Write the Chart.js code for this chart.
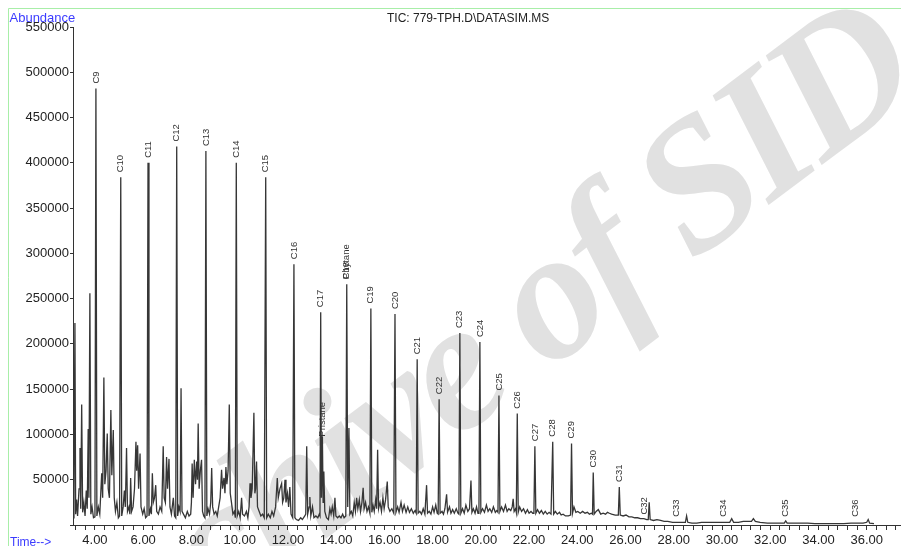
<!DOCTYPE html>
<html>
<head>
<meta charset="utf-8">
<script src="https://cdn.jsdelivr.net/npm/chart.js@4.4.1/dist/chart.umd.min.js"></script>
<style>
body{margin:0;background:#fff}
#wrap{width:901px;height:546px;position:relative}
</style>
</head>
<body>
<div id="wrap"><canvas id="myChart"></canvas></div>
<script>
// retention time (min) and abundance of the TIC trace
var rt = [
 3.09,3.13,3.17,3.20,3.24,3.28,3.34,3.38,3.41,3.45,3.49,3.54,3.59,3.64,3.68,3.72,3.75,3.79,3.83,3.88,3.94,
 4.00,4.04,4.08,4.14,4.20,4.28,4.32,4.37,4.41,4.46,4.51,4.55,4.60,4.66,4.70,4.76,4.80,4.85,4.91,4.97,
 5.02,5.07,5.11,5.17,5.22,5.26,5.31,5.35,5.41,5.45,5.48,5.52,5.58,5.64,5.70,5.73,5.77,5.81,5.87,5.91,5.98,
 6.04,6.10,6.16,6.20,6.24,6.30,6.34,6.38,6.42,6.47,6.52,6.56,6.63,6.70,6.77,6.83,6.87,6.92,6.97,
 7.01,7.07,7.11,7.17,7.25,7.30,7.35,7.39,7.43,7.48,7.53,7.57,7.61,7.67,7.75,7.83,7.90,7.97,
 8.00,8.03,8.07,8.12,8.17,8.22,8.25,8.28,8.32,8.37,8.42,8.46,8.51,8.56,8.60,8.64,8.69,8.75,8.80,8.84,8.88,8.94,
 9.01,9.07,9.13,9.19,9.25,9.29,9.35,9.39,9.43,9.47,9.52,9.57,9.61,9.66,9.72,9.78,9.82,9.86,9.90,9.96,
 10.02,10.08,10.12,10.20,10.28,10.34,10.39,10.43,10.47,10.52,10.59,10.63,10.66,10.70,10.74,10.81,10.88,10.95,
 11.02,11.08,11.12,11.19,11.27,11.34,11.41,11.49,11.56,11.60,11.67,11.74,11.78,11.83,11.88,11.92,11.98,
 12.03,12.08,12.13,12.20,12.25,12.29,12.35,12.44,12.53,12.60,12.70,12.74,12.78,12.82,12.88,12.91,12.95,
 13.02,13.08,13.16,13.24,13.30,13.33,13.36,13.39,13.43,13.46,13.49,13.53,13.60,13.68,13.74,13.79,13.84,13.90,13.95,13.99,
 14.06,14.13,14.20,14.27,14.33,14.40,14.44,14.48,14.53,14.57,14.63,14.69,14.75,14.80,14.85,14.90,14.96,
 15.01,15.07,15.12,15.16,15.22,15.28,15.34,15.40,15.44,15.48,15.53,15.58,15.64,15.68,15.72,15.76,15.82,15.88,15.94,15.99,
 16.05,16.12,16.16,16.23,16.31,16.39,16.44,16.48,16.55,16.61,16.69,16.75,16.82,16.90,16.97,
 17.04,17.12,17.20,17.27,17.32,17.36,17.40,17.47,17.54,17.61,17.68,17.75,17.79,17.86,17.93,
 18.00,18.06,18.13,18.19,18.23,18.27,18.31,18.39,18.45,18.51,18.58,18.62,18.70,18.76,18.83,18.90,18.98,
 19.05,19.09,19.13,19.17,19.24,19.31,19.38,19.46,19.53,19.59,19.63,19.69,19.76,19.82,19.88,19.92,19.96,
 20.00,20.07,20.15,20.23,20.30,20.37,20.45,20.52,20.60,20.66,20.71,20.75,20.79,20.86,20.94,
 21.02,21.09,21.16,21.24,21.30,21.34,21.38,21.44,21.47,21.51,21.55,21.61,21.69,21.77,21.85,21.93,
 22.00,22.08,22.15,22.20,22.24,22.28,22.35,22.43,22.51,22.59,22.67,22.75,22.83,22.91,22.94,22.98,
 23.02,23.09,23.17,23.26,23.33,23.41,23.51,23.63,23.72,23.76,23.80,23.86,23.94,
 24.02,24.12,24.22,24.32,24.42,24.50,24.58,24.63,24.66,24.70,24.78,24.87,24.97,
 25.07,25.17,25.25,25.33,25.42,25.57,25.70,25.74,25.78,25.90,
 26.02,26.14,26.26,26.38,26.50,26.62,26.76,26.88,26.94,26.98,
 27.02,27.16,27.30,27.45,27.60,27.75,27.95,28.15,28.35,28.48,28.53,28.58,28.75,28.95,
 29.15,29.35,29.55,29.75,29.95,30.15,30.32,30.40,30.48,30.68,30.88,
 31.08,31.22,31.30,31.38,31.58,31.88,32.18,32.48,32.58,32.64,32.70,32.95,
 33.25,33.55,33.85,34.15,34.45,34.75,35.05,35.35,35.65,35.85,36.00,36.06,36.12,36.30
];
var abundance = [
 8000,30000,223000,12000,28000,10000,40000,85000,18000,133000,14000,25000,10000,38000,18000,106000,30000,256000,12000,20000,8000,
 9000,482000,10000,20000,12000,57000,30000,163000,45000,60000,101000,40000,30000,127000,55000,105000,30000,15000,25000,8000,
 10000,384000,10000,20000,38000,20000,85000,15000,20000,12000,52000,15000,20000,40000,92000,60000,88000,40000,79000,20000,12000,
 18000,8000,10000,400000,10000,18000,12000,57000,25000,30000,44000,15000,12000,20000,15000,87000,30000,25000,75000,
 40000,73000,20000,12000,30000,10000,8000,418000,10000,20000,15000,151000,15000,12000,8000,15000,10000,12000,
 25000,68000,30000,72000,45000,70000,50000,112000,40000,60000,72000,15000,10000,8000,413000,10000,18000,12000,25000,63000,20000,12000,
 15000,10000,20000,30000,61000,40000,52000,35000,64000,45000,60000,133000,35000,25000,12000,15000,8000,400000,10000,15000,
 8000,30000,12000,10000,15000,8000,20000,46000,30000,40000,124000,35000,40000,70000,20000,15000,10000,12000,
 8000,384000,8000,12000,8000,15000,10000,20000,52000,30000,40000,46000,25000,30000,50000,25000,35000,
 20000,42000,12000,8000,288000,8000,6000,5000,8000,6000,10000,12000,87000,12000,20000,31000,10000,
 20000,8000,10000,8000,12000,10000,235000,30000,98000,25000,59000,15000,8000,6000,18000,12000,20000,10000,30000,10000,
 8000,10000,8000,12000,8000,10000,266000,20000,107000,12000,15000,10000,25000,15000,30000,18000,28000,
 15000,25000,41000,18000,25000,15000,20000,13000,239000,14000,22000,15000,28000,18000,83000,18000,25000,15000,30000,18000,
 28000,48000,20000,15000,18000,13000,233000,14000,20000,14000,25000,15000,22000,14000,20000,
 14000,18000,13000,16000,13000,183000,13000,15000,12000,18000,12000,44000,13000,15000,12000,
 20000,14000,22000,13000,12000,139000,13000,15000,12000,18000,34000,14000,20000,13000,17000,13000,18000,
 13000,12000,212000,13000,18000,13000,22000,15000,18000,49000,14000,18000,13000,20000,13000,13000,202000,
 14000,18000,14000,22000,15000,18000,14000,20000,14000,16000,14000,143000,15000,20000,15000,
 22000,15000,18000,16000,20000,29000,15000,18000,14000,123000,14000,20000,15000,18000,13000,17000,
 13000,15000,13000,13000,87000,13000,17000,13000,16000,12000,15000,12000,14000,12000,12000,92000,
 12000,15000,12000,14000,11000,12000,10000,10000,11000,90000,13000,20000,14000,
 15000,13000,15000,13000,14000,12000,13000,12000,58000,12000,15000,17000,12000,
 13000,12000,14000,13000,12000,11000,11000,42000,11000,10000,
 11000,9000,9000,8000,8000,7000,7000,6000,6000,25000,
 6000,5000,6000,5000,4000,4000,3000,3000,3000,3000,10000,3000,2000,2000,
 3000,3000,3000,3000,3000,3000,3000,7000,3000,3000,4000,
 4000,4000,7000,4000,3000,2000,2000,2000,2000,4500,2000,2000,
 2000,2000,1500,1500,1500,1500,1500,2000,2000,2000,3000,6000,2000,1500
];

// peak annotations (name, retention time, abundance where the label sits)
var peakNames = ['C9','C10','C11','C12','C13','C14','C15','C16','C17','Pristane','C18','Phytane','C19','C20',
  'C21','C22','C23','C24','C25','C26','C27','C28','C29','C30','C31','C32','C33','C34','C35','C36'];
var peakTimes = [4.04,5.07,6.20,7.39,8.60,9.86,11.08,12.25,13.36,13.43,14.44,14.44,15.44,16.44,
  17.36,18.27,19.13,19.96,20.75,21.51,22.24,22.98,23.76,24.66,25.74,26.76,28.12,30.04,32.64,35.51];
var peakTops = [482000,384000,400000,418000,413000,400000,384000,288000,235000,92000,266000,266000,239000,233000,
  183000,139000,212000,202000,143000,123000,87000,92000,90000,58000,42000,6000,3500,3500,3500,3500];

var majorTimes = [4,6,8,10,12,14,16,18,20,22,24,26,28,30,32,34,36];
var xMin = 3.09, xMax = 37.42;
var yMax = 550000, yStep = 50000;

var pts = rt.map((t, i) => ({x: t, y: abundance[i]}));

var decor = {
  id: 'decor',
  beforeDraw(chart) {
    let c = chart.ctx;
    let a = -37 * Math.PI / 180;
    c.save();
    c.font = "italic bold 185px 'Liberation Serif'";
    c.textAlign = 'left';
    c.textBaseline = 'alphabetic';
    if ('letterSpacing' in c) c.letterSpacing = '-6px';
    // keep the "o" of "of" at the same spot, whatever the spacing
    let w = c.measureText('Archive ').width;
    c.translate(547 - w * Math.cos(a), 372 - w * Math.sin(a));
    c.rotate(a);
    c.fillStyle = '#e1e1e1';
    c.fillText('Archive of SID', 0, 0);
    c.restore();
    c.save();
    c.strokeStyle = '#a8eea8';
    c.lineWidth = 1;
    c.beginPath();
    c.moveTo(8.5, 546); c.lineTo(8.5, 8.5); c.lineTo(901, 8.5);
    c.stroke();
    c.restore();
  },
  afterDatasetsDraw(chart) {
    let c = chart.ctx, xs = chart.scales.x, ys = chart.scales.y;
    c.save();
    c.font = "9.5px 'Liberation Sans'";
    c.fillStyle = '#333';
    c.textAlign = 'left';
    c.textBaseline = 'middle';
    peakNames.forEach((n, i) => {
      let px = xs.getPixelForValue(peakTimes[i]);
      let py = ys.getPixelForValue(peakTops[i]) - 5;
      c.save();
      c.translate(px, py);
      c.rotate(-Math.PI / 2);
      c.fillText(n, 0, 0);
      c.restore();
    });
    c.restore();
  },
  afterDraw(chart) {
    let c = chart.ctx;
    c.save();
    c.textAlign = 'left';
    c.textBaseline = 'alphabetic';
    c.font = "12px 'Liberation Sans'";
    c.fillStyle = '#222';
    c.fillText('TIC: 779-TPH.D\\DATASIM.MS', 387, 21.5);
    c.font = "13px 'Liberation Sans'";
    c.fillStyle = '#3b3bff';
    c.fillText('Abundance', 9.5, 21.5);
    c.font = "12px 'Liberation Sans'";
    c.fillText('Time-->', 10, 545.5);
    c.restore();
  }
};

var ctx = document.getElementById('myChart').getContext('2d');
var myChart = new Chart(ctx, {
  type: 'line',
  data: {
    datasets: [{
      data: pts,
      borderColor: '#363636',
      borderWidth: 1.3,
      pointRadius: 0,
      tension: 0,
      fill: false
    }]
  },
  options: {
    responsive: true,
    maintainAspectRatio: false,
    animation: false,
    layout: {padding: {top: 27, right: 0, left: 0, bottom: 0}},
    plugins: {legend: {display: false}, tooltip: {enabled: false}},
    scales: {
      x: {
        type: 'linear',
        min: xMin,
        max: xMax,
        afterFit: s => { s.height = 21; },
        afterBuildTicks: s => {
          let t = [];
          for (let v = 3.2; v < xMax; v += 0.4) t.push({value: +v.toFixed(1)});
          s.ticks = t;
        },
        grid: {display: true, drawOnChartArea: false, drawTicks: true, tickLength: 5, color: '#333'},
        border: {display: true, color: '#333', width: 1},
        ticks: {
          autoSkip: false, maxRotation: 0, padding: 3,
          color: '#222', font: {family: 'Liberation Sans', size: 13},
          callback: v => majorTimes.indexOf(Math.round(v * 10) / 10) >= 0 ? v.toFixed(2) : ''
        }
      },
      y: {
        min: 0,
        max: yMax,
        afterFit: s => { s.width = 73; },
        grid: {display: true, drawOnChartArea: false, drawTicks: true, tickLength: 3, color: '#333'},
        border: {display: true, color: '#333', width: 1},
        ticks: {
          stepSize: yStep, padding: 1,
          color: '#222', font: {family: 'Liberation Sans', size: 13},
          callback: v => v === 0 ? '' : String(v)
        }
      }
    }
  },
  plugins: [decor]
});
</script>
</body>
</html>
